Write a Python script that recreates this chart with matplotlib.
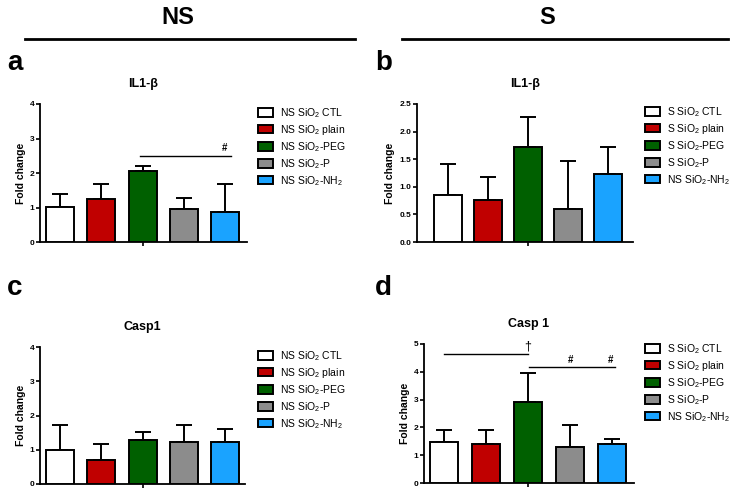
import numpy as np
import matplotlib
matplotlib.use("Agg")
import matplotlib.pyplot as plt
from matplotlib.lines import Line2D
from matplotlib.patches import Patch

plt.rcParams['font.family'] = ['Liberation Sans', 'DejaVu Sans']
plt.rcParams['mathtext.fontset'] = 'custom'
plt.rcParams['mathtext.rm'] = 'Liberation Sans'
plt.rcParams['mathtext.it'] = 'Liberation Sans'

# =========================
# data
# =========================
groups = ["CTL", "plain", "PEG", "P", "NH2"]
colors = ["#ffffff", "#c00000", "#006000", "#8c8c8c", "#1aa3ff"]

labels_ns = ["NS SiO$_2$ CTL", "NS SiO$_2$ plain", "NS SiO$_2$-PEG",
             "NS SiO$_2$-P", "NS SiO$_2$-NH$_2$"]
labels_s = ["S SiO$_2$ CTL", "S SiO$_2$ plain", "S SiO$_2$-PEG",
            "S SiO$_2$-P", "NS SiO$_2$-NH$_2$"]

# mean fold change and top of error bar
il1b_ns = [1.02, 1.25, 2.07, 0.95, 0.86]
il1b_ns_top = [1.38, 1.69, 2.20, 1.27, 1.69]
il1b_s = [0.85, 0.76, 1.73, 0.60, 1.24]
il1b_s_top = [1.41, 1.17, 2.27, 1.47, 1.72]
casp1_ns = [1.00, 0.70, 1.28, 1.24, 1.22]
casp1_ns_top = [1.72, 1.16, 1.52, 1.72, 1.62]
casp1_s = [1.46, 1.40, 2.93, 1.29, 1.39]
casp1_s_top = [1.90, 1.89, 3.94, 2.08, 1.59]

W, H = 741, 492


def rect(left, right, top, bottom):
    return [left / W, 1 - bottom / H, (right - left) / W, (bottom - top) / H]


fig = plt.figure(figsize=(7.41, 4.92), dpi=100)


def panel(pos, means, tops, ymax, yticks, yfmt, xlim, title, labels, leg_xy, width=0.68):
    ax = fig.add_axes(pos)
    x = np.arange(len(means))
    ax.bar(x, means, width=width, color=colors, edgecolor="black", linewidth=1.4, zorder=3)
    err = np.array(tops) - np.array(means)
    ax.errorbar(x, means, yerr=[np.zeros(len(means)), err], fmt="none",
                ecolor="black", elinewidth=1.4, capsize=5.5, capthick=1.4, zorder=2)
    ax.set_ylim(0, ymax)
    ax.set_xlim(*xlim)
    ax.set_yticks(yticks)
    ax.set_yticklabels([yfmt.format(t) for t in yticks], fontsize=6, fontweight="bold")
    ax.set_xticks([2])
    ax.set_xticklabels([""])
    ax.tick_params(axis="both", direction="out", length=3, width=1.2, pad=1)
    for s in ["top", "right"]:
        ax.spines[s].set_visible(False)
    for s in ["left", "bottom"]:
        ax.spines[s].set_linewidth(1.3)
    ax.set_ylabel("Fold change", fontsize=7.5, fontweight="bold", labelpad=3)
    ax.set_title(title, fontsize=9, fontweight="bold", pad=12)
    handles = [Patch(facecolor=c, edgecolor="black", linewidth=1.4) for c in colors]
    ax.legend(handles, labels, loc="upper left", bbox_to_anchor=leg_xy,
              bbox_transform=fig.transFigure, frameon=False, fontsize=7.5,
              borderpad=0, handlelength=1.45, handleheight=0.85,
              handletextpad=0.7, labelspacing=0.3, borderaxespad=0)
    return ax


ax_a = panel(rect(40, 247, 104, 242), il1b_ns, il1b_ns_top, 4, [0, 1, 2, 3, 4], "{:g}",
             (-0.49, 4.53), "IL1-\u03b2", labels_ns, (258 / W, 1 - 106 / H))
ax_b = panel(rect(417, 633, 104, 242), il1b_s, il1b_s_top, 2.5,
             [0, 0.5, 1.0, 1.5, 2.0, 2.5], "{:.1f}",
             (-0.78, 4.63), "IL1-\u03b2", labels_s, (645 / W, 1 - 105 / H), width=0.7)
ax_c = panel(rect(40, 245, 347, 484), casp1_ns, casp1_ns_top, 4, [0, 1, 2, 3, 4], "{:g}",
             (-0.49, 4.48), "Casp1", labels_ns, (258 / W, 1 - 349 / H))
ax_d = panel(rect(424, 634, 344, 483), casp1_s, casp1_s_top, 5, [0, 1, 2, 3, 4, 5], "{:g}",
             (-0.48, 4.52), "Casp 1", labels_s, (645 / W, 1 - 342 / H), width=0.67)

# significance marks
ax_a.plot([1.93, 4.15], [2.5, 2.5], color="black", lw=1.0)
ax_a.text(3.98, 2.58, "#", fontsize=7, fontweight="bold", ha="center", va="bottom")

ax_d.plot([0.0, 2.0], [4.64, 4.64], color="black", lw=1.0, clip_on=False)
ax_d.text(1.98, 4.68, "\u2020", fontsize=9, ha="center", va="bottom")
ax_d.plot([2.02, 4.06], [4.19, 4.19], color="black", lw=1.0)
ax_d.text(3.0, 4.26, "#", fontsize=7, fontweight="bold", ha="center", va="bottom")
ax_d.text(3.95, 4.26, "#", fontsize=7, fontweight="bold", ha="center", va="bottom")

# headers
fig.text(178 / W, 1 - 18 / H, "NS", fontsize=17, fontweight="bold", ha="center", va="center")
fig.text(547 / W, 1 - 18 / H, "S", fontsize=17, fontweight="bold", ha="center", va="center")
fig.add_artist(Line2D([25 / W, 355 / W], [1 - 39 / H, 1 - 39 / H], color="black", lw=2))
fig.add_artist(Line2D([402 / W, 728 / W], [1 - 39 / H, 1 - 39 / H], color="black", lw=2))

# panel letters
for lx, ly, lt in [(7, 70, "a"), (375, 70, "b"), (7, 295, "c"), (375, 295, "d")]:
    fig.text(lx / W, 1 - ly / H, lt, fontsize=20, fontweight="bold", ha="left", va="baseline")

fig.savefig("out.png", dpi=100)
